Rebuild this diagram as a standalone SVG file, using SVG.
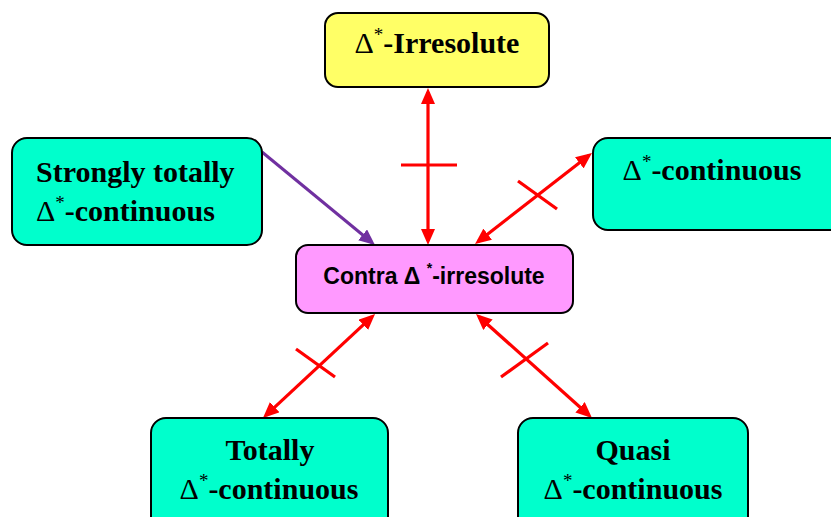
<svg xmlns="http://www.w3.org/2000/svg" width="831" height="517" viewBox="0 0 831 517">
<style>
.box{stroke:#000;stroke-width:2}
.t{font-family:"Liberation Serif","Times New Roman",serif;font-weight:bold;font-size:30px;fill:#000}
.d{font-weight:normal}
.s{font-size:19px;font-weight:normal}
.m{font-family:"Liberation Sans",Arial,sans-serif;font-weight:bold;font-size:23px;fill:#000}
.red{stroke:#FF0000;stroke-width:3.2;fill:none}
.pur{stroke:#7030A0;stroke-width:3;fill:none}
</style>
<defs>
<marker id="ar" markerUnits="userSpaceOnUse" markerWidth="16" markerHeight="14" refX="12" refY="7" orient="auto-start-reverse">
<path d="M0,0 L16,7 L0,14 z" fill="#FF0000"/>
</marker>
<marker id="ap" markerUnits="userSpaceOnUse" markerWidth="16" markerHeight="14" refX="12" refY="7" orient="auto">
<path d="M0,0 L16,7 L0,14 z" fill="#7030A0"/>
</marker>
</defs>
<rect width="831" height="517" fill="#fff"/>
<g id="connectors">
<line class="red" x1="428" y1="92" x2="428" y2="241" marker-start="url(#ar)" marker-end="url(#ar)"/>
<line class="red" x1="401" y1="165" x2="457" y2="165"/>
<line class="pur" x1="262" y1="152" x2="371.9" y2="242.5" marker-end="url(#ap)"/>
<line class="red" x1="478.2" y1="241.5" x2="588.8" y2="155.5" marker-start="url(#ar)" marker-end="url(#ar)"/>
<line class="red" x1="518" y1="181" x2="557" y2="209"/>
<line class="red" x1="372.1" y1="316.7" x2="265.9" y2="415.3" marker-start="url(#ar)" marker-end="url(#ar)"/>
<line class="red" x1="296" y1="349" x2="335" y2="377"/>
<line class="red" x1="479" y1="316.7" x2="589" y2="415.3" marker-start="url(#ar)" marker-end="url(#ar)"/>
<line class="red" x1="501" y1="377" x2="548" y2="343"/>
</g>
<g id="irresolute">
<rect class="box" x="325" y="13" width="224" height="74" rx="13" fill="#FFFF66"/>
<text class="t" x="437" y="53" text-anchor="middle"><tspan class="d">Δ</tspan><tspan class="s" dy="-12">*</tspan><tspan dy="12">-Irresolute</tspan></text>
</g>
<g id="strongly">
<rect class="box" x="12" y="138" width="250" height="107" rx="15" fill="#00FFCC"/>
<text class="t" x="36" y="182">Strongly totally</text>
<text class="t" x="36" y="221"><tspan class="d">Δ</tspan><tspan class="s" dy="-12">*</tspan><tspan dy="12">-continuous</tspan></text>
</g>
<g id="continuous">
<rect class="box" x="593" y="138" width="260" height="92" rx="15" fill="#00FFCC"/>
<text class="t" x="712" y="180" text-anchor="middle"><tspan class="d">Δ</tspan><tspan class="s" dy="-12">*</tspan><tspan dy="12">-continuous</tspan></text>
</g>
<g id="contra">
<rect class="box" x="296" y="245" width="277" height="68" rx="12" fill="#FF99FF"/>
<text class="m" x="434" y="284" text-anchor="middle">Contra Δ <tspan font-size="14" dy="-11">*</tspan><tspan dy="11">-irresolute</tspan></text>
</g>
<g id="totally">
<rect class="box" x="151" y="418" width="237" height="120" rx="15" fill="#00FFCC"/>
<text class="t" x="270" y="460" text-anchor="middle">Totally</text>
<text class="t" x="269" y="499" text-anchor="middle"><tspan class="d">Δ</tspan><tspan class="s" dy="-12">*</tspan><tspan dy="12">-continuous</tspan></text>
</g>
<g id="quasi">
<rect class="box" x="518" y="418" width="230" height="120" rx="15" fill="#00FFCC"/>
<text class="t" x="633" y="460" text-anchor="middle">Quasi</text>
<text class="t" x="633" y="499" text-anchor="middle"><tspan class="d">Δ</tspan><tspan class="s" dy="-12">*</tspan><tspan dy="12">-continuous</tspan></text>
</g>
</svg>
